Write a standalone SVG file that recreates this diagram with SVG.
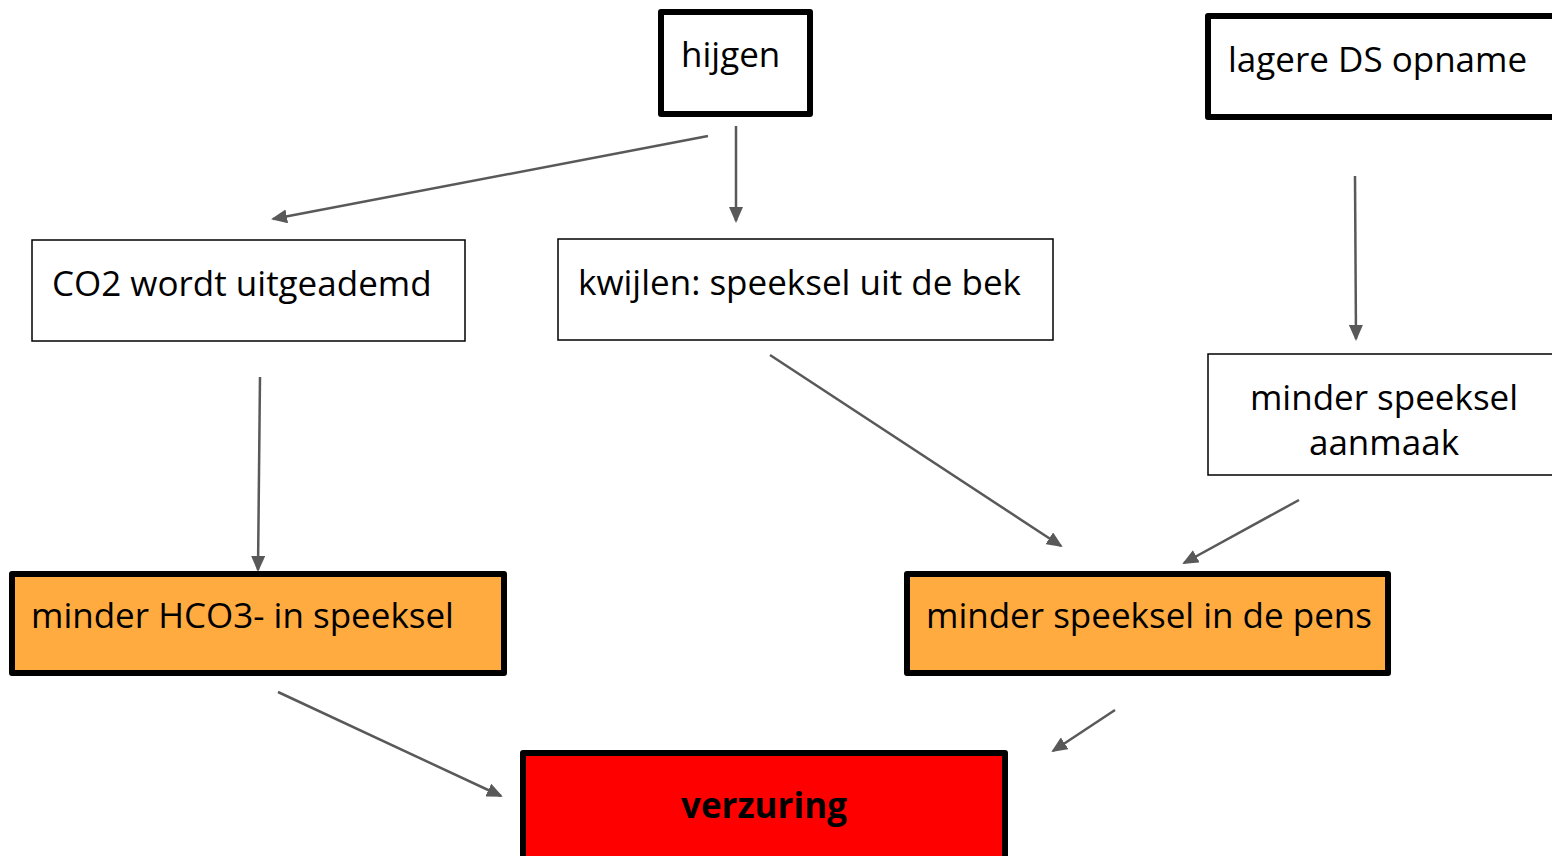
<svg xmlns="http://www.w3.org/2000/svg" width="1552" height="856" viewBox="0 0 1552 856">
<defs>
<style>
.t{font-family:"Open Sans","Noto Sans",sans-serif;font-size:35px;fill:#000}
.thick{stroke:#000;stroke-width:6;stroke-linejoin:round}
.thin{fill:#fff;stroke:#000;stroke-width:1.5}
.c{stroke:#595959;stroke-width:2.5;fill:none;marker-end:url(#ah)}
</style>
<marker id="ah" viewBox="0 0 16 14" refX="14" refY="7" markerWidth="16" markerHeight="14" orient="auto" markerUnits="userSpaceOnUse">
<path d="M0,0 L16,7 L0,14 z" fill="#595959"/>
</marker>
</defs>
<rect width="1552" height="856" fill="#fff"/>
<g id="connectors">
<line class="c" x1="708" y1="136" x2="273" y2="219"/>
<line class="c" x1="736" y1="126" x2="736" y2="221"/>
<line class="c" x1="1355" y1="176" x2="1356" y2="339"/>
<line class="c" x1="260" y1="377" x2="258" y2="570"/>
<line class="c" x1="770" y1="355" x2="1061" y2="546"/>
<line class="c" x1="1299" y1="500" x2="1184" y2="563"/>
<line class="c" x1="278" y1="692" x2="501" y2="796"/>
<line class="c" x1="1115" y1="710" x2="1053" y2="751"/>
</g>
<g id="hijgen">
<rect class="thick" x="661" y="12" width="149" height="102" fill="#fff"/>
<text class="t" x="681" y="67">hijgen</text>
</g>
<g id="lagere">
<rect class="thick" x="1208" y="16" width="360" height="101" fill="#fff"/>
<text class="t" x="1228" y="72">lagere DS opname</text>
</g>
<g id="co2">
<rect class="thin" x="32" y="240" width="433" height="101"/>
<text class="t" x="52" y="296">CO2 wordt uitgeademd</text>
</g>
<g id="kwijlen">
<rect class="thin" x="558" y="239" width="495" height="101"/>
<text class="t" x="578" y="295">kwijlen: speeksel uit de bek</text>
</g>
<g id="aanmaak">
<rect class="thin" x="1208" y="354" width="360" height="121"/>
<text class="t" x="1384" y="410" text-anchor="middle">minder speeksel</text>
<text class="t" x="1384" y="455" text-anchor="middle">aanmaak</text>
</g>
<g id="hco3">
<rect class="thick" x="12" y="574" width="492" height="99" fill="#FFAB40"/>
<text class="t" x="31" y="628">minder HCO3- in speeksel</text>
</g>
<g id="pens">
<rect class="thick" x="907" y="574" width="481" height="99" fill="#FFAB40"/>
<text class="t" x="926" y="628">minder speeksel in de pens</text>
</g>
<g id="verzuring">
<rect class="thick" x="523" y="753" width="482" height="110" fill="#FF0000"/>
<text class="t" x="764" y="818" text-anchor="middle" font-weight="bold">verzuring</text>
</g>
</svg>
